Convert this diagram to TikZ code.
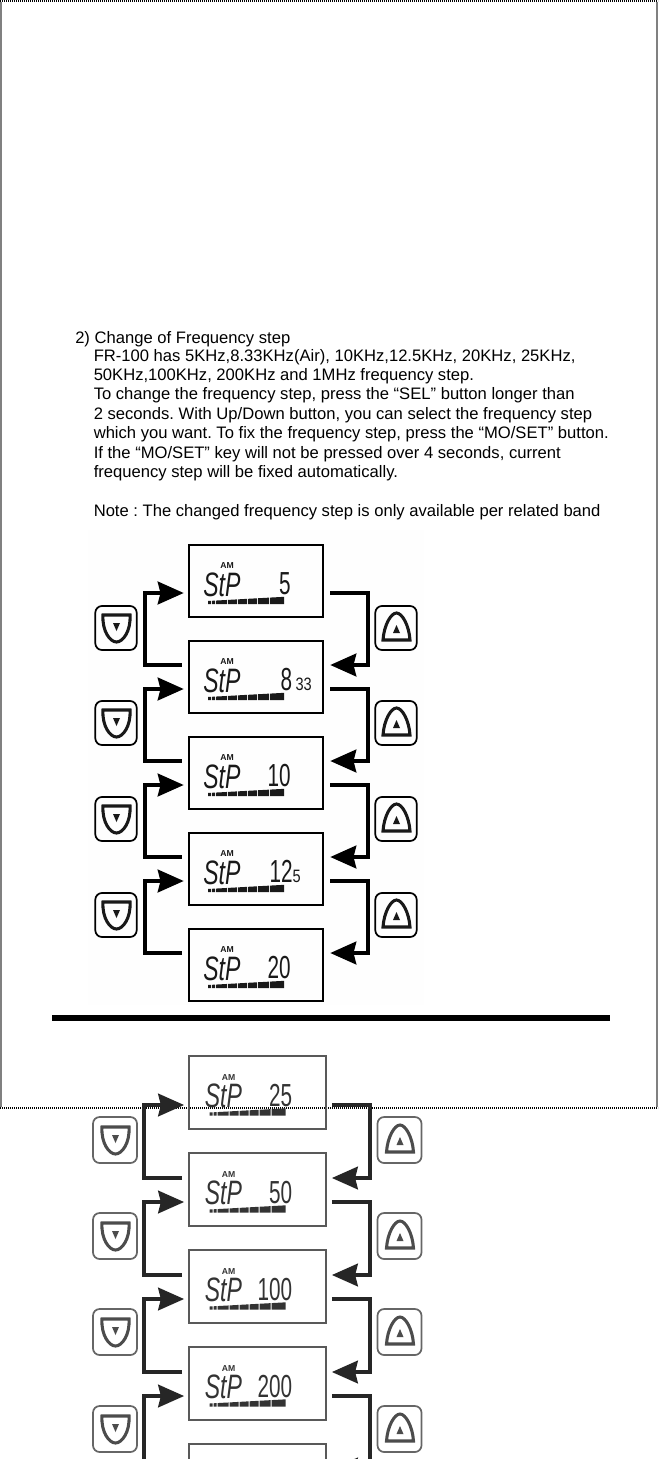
\documentclass[tikz,border=0pt]{standalone}
\usepackage{fontspec}
\usepackage{graphicx}
\setmainfont{Liberation Sans}
\frenchspacing
\usetikzlibrary{arrows.meta,positioning,shapes}

\tikzset{
    bodytext/.style={anchor=base west,inner sep=0pt,font=\fontsize{12.5}{15}\selectfont},
    lcdbox/.style={draw,line width=1.9pt,minimum width=100.5bp,minimum height=54bp,inner sep=0pt},
    keybox/.style={draw,line width=1.3pt,rounded corners=5pt,minimum width=31bp,minimum height=33bp,inner sep=0pt},
    stepline/.style={line width=3pt,-{Stealth[length=19.5pt,width=17pt,inset=2pt]}},
    palebox/.style={lcdbox,draw=black!65,line width=1.6pt,minimum width=102.5bp,minimum height=55bp},
    palekey/.style={keybox,draw=black!60,minimum width=33bp,minimum height=34.5bp},
    paleline/.style={stepline,line width=2.6pt,black!85},
}

\newcommand{\smalldigits}[1]{\scalebox{1.25}[1]{\fontsize{13.5}{13.5}\selectfont #1}}

% one display: style, name, centre y, right end of the value, value
\newcommand{\lcdunit}[5]{%
    \node[#1] (#2) at (\csname #1x\endcsname,#3) {};
    \node[font=\bfseries\fontsize{6.5}{7}\selectfont,inner sep=0pt,#1-ink] (#2am) at ([shift={(-29,-15)}]#2.center) {AM};
    \node[anchor=base west,inner sep=0pt,font=\fontsize{25.5}{26}\selectfont,#1-ink] (#2stp) at ([shift={(-53,15)}]#2.center) {\scalebox{0.68}[1]{\textit{StP}}};
    \node[anchor=base east,inner sep=0pt,font=\fontsize{24}{24}\selectfont,#1-ink] (#2val) at ([shift={(#4,13.5)}]#2.center) {\scalebox{0.65}[1]{#5}};
    % signal bar
    \foreach \xa/\xb in {0/3,4/7,8/19,20/29,30/39,40/49,50/61,62/76}{
        \pgfmathsetmacro{\ha}{3+\xa*0.055}
        \pgfmathsetmacro{\hb}{3+\xb*0.055}
        \fill[#1-ink] ([shift={(-48+\xa,23)}]#2.center) -- ([shift={(-48+\xb,23)}]#2.center) -- ([shift={(-48+\xb,23-\hb)}]#2.center) -- ([shift={(-48+\xa,23-\ha)}]#2.center) -- cycle;
    }
}
\colorlet{lcdbox-ink}{black!90}
\colorlet{palebox-ink}{black!80}
\def\lcdboxx{256}
\def\paleboxx{257.5}

% the two arrowed faces of the keys
\newcommand{\downkey}[3]{%
    \node[#1] (#2) at #3 {};
    \draw[line width=2.3pt,#1-ink] ([shift={(-13,-13)}]#2.center) -- ([shift={(14,-13)}]#2.center) .. controls ([shift={(15,3)}]#2.center) and ([shift={(7,14)}]#2.center) .. ([shift={(0.5,14)}]#2.center) .. controls ([shift={(-6,14)}]#2.center) and ([shift={(-14,3)}]#2.center) .. cycle;
    \fill[#1-ink] ([shift={(-3,-5)}]#2.center) -- ([shift={(4,-5)}]#2.center) -- ([shift={(0.5,3)}]#2.center) -- cycle;
}
\newcommand{\upkey}[3]{%
    \node[#1] (#2) at #3 {};
    \draw[line width=2.3pt,#1-ink] ([shift={(-13,12)}]#2.center) -- ([shift={(14,12)}]#2.center) .. controls ([shift={(13,-3)}]#2.center) and ([shift={(6,-15)}]#2.center) .. ([shift={(0.5,-15)}]#2.center) .. controls ([shift={(-5,-15)}]#2.center) and ([shift={(-12,-3)}]#2.center) .. cycle;
    \fill[#1-ink] ([shift={(-3,5)}]#2.center) -- ([shift={(4,5)}]#2.center) -- ([shift={(0.5,-3)}]#2.center) -- cycle;
}
\colorlet{keybox-ink}{black!90}
\colorlet{palekey-ink}{black!70}

\begin{document}
\begin{tikzpicture}[x=0.75bp,y=-0.75bp]
    \useasboundingbox (0,0) rectangle (658,1459);
    \clip (0,0) rectangle (658,1459);

    % Page frame
    \draw[black!50,line width=1.5bp] (1,2) -- (1,1107);
    \draw[black!50,line width=1.5bp] (657,2) -- (657,1107);
    \draw[line width=1.5bp,dash pattern=on 0.75bp off 0.75bp] (0,1) -- (658,1);
    \draw[line width=1.5bp,dash pattern=on 0.75bp off 0.75bp] (0,1108) -- (658,1108);

    % Faint scan background
    \fill[black!0.4] (88,530) rectangle (424,1005);

    % Text
    \node[bodytext] (line1) at (75,343) {2) Change of Frequency step};
    \node[bodytext] (line2) at (93.5,361) {FR-100 has 5KHz,8.33KHz(Air), 10KHz,12.5KHz, 20KHz, 25KHz,};
    \node[bodytext] (line3) at (93.5,380) {50KHz,100KHz, 200KHz and 1MHz frequency step.};
    \node[bodytext] (line4) at (93.5,399) {To change the frequency step, press the “SEL” button longer than};
    \node[bodytext] (line5) at (93.5,419) {2 seconds. With Up/Down button, you can select the frequency step};
    \node[bodytext] (line6) at (93.5,438) {which you want. To fix the frequency step, press the “MO/SET” button.};
    \node[bodytext] (line7) at (93.5,458) {If the “MO/SET” key will not be pressed over 4 seconds, current};
    \node[bodytext] (line8) at (93.5,477) {frequency step will be fixed automatically.};
    \node[bodytext] (line9) at (93.5,516) {Note : The changed frequency step is only available per related band};

    % Upper displays
    \lcdunit{lcdbox}{stepa}{581}{35}{5}
    \lcdunit{lcdbox}{stepb}{677}{56}{8\,\smalldigits{33}}
    \lcdunit{lcdbox}{stepc}{773}{35}{10}
    \lcdunit{lcdbox}{stepd}{869}{45}{12\smalldigits{5}}
    \lcdunit{lcdbox}{stepe}{965}{35}{20}

    % Upper keys and connectors
    \foreach \a/\b/\y [count=\i] in {stepa/stepb/628,stepb/stepc/723,stepc/stepd/819,stepd/stepe/915}{
        \downkey{keybox}{down\i}{(116,\y)}
        \upkey{keybox}{up\i}{(396,\y)}
        \draw[stepline] ([shift={(6,12)}]\a.east) -- ++(38,0) |- ([shift={(6,-12)}]\b.east);
        \draw[stepline] ([shift={(-6,-12)}]\b.west) -- ++(-37,0) |- ([shift={(-4,12)}]\a.west);
    }

    % Heavy rule
    \fill (52,1015) rectangle (610,1021);

    % Lower displays
    \lcdunit{palebox}{stepf}{1092.5}{35}{25}
    \lcdunit{palebox}{stepg}{1189.5}{35}{50}
    \lcdunit{palebox}{steph}{1286.5}{35}{100}
    \lcdunit{palebox}{stepi}{1383.5}{35}{200}
    \node[palebox] (stepj) at (257.5,1480.5) {};

    % Lower keys and connectors
    \foreach \a/\b/\y [count=\i] in {stepf/stepg/1140,stepg/steph/1236,steph/stepi/1332,stepi/stepj/1429}{
        \downkey{palekey}{pdown\i}{(115,\y)}
        \upkey{palekey}{pup\i}{(399.5,\y)}
        \draw[paleline] ([shift={(5,12.5)}]\a.east) -- ++(38,0) |- ([shift={(5,-11.5)}]\b.east);
        \draw[paleline] ([shift={(-6,-11.5)}]\b.west) -- ++(-38,0) |- ([shift={(-4,12.5)}]\a.west);
    }
\end{tikzpicture}
\end{document}
